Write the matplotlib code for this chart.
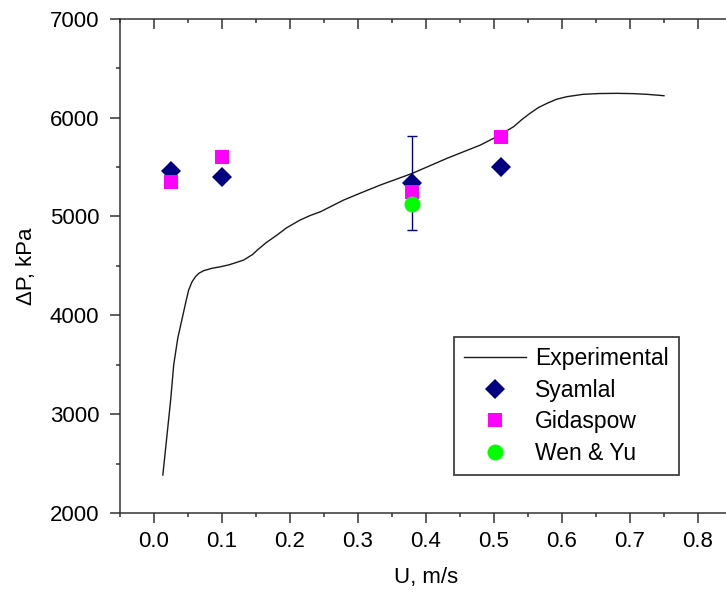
import matplotlib
matplotlib.use("Agg")
import matplotlib.pyplot as plt
from matplotlib.ticker import MultipleLocator

plt.rcParams['font.family'] = ['Liberation Sans', 'DejaVu Sans']

# Experimental curve
exp_u = [0.013, 0.0245, 0.029, 0.035, 0.042, 0.047, 0.051, 0.056, 0.061, 0.066, 0.073,
         0.085, 0.098, 0.110, 0.1175, 0.132, 0.145, 0.152, 0.165, 0.181, 0.195, 0.215,
         0.230, 0.245, 0.260, 0.279, 0.305, 0.333, 0.380, 0.431, 0.480, 0.505, 0.529,
         0.541, 0.553, 0.565, 0.578, 0.592, 0.607, 0.631, 0.655, 0.680, 0.705, 0.725,
         0.750]
exp_dp = [2384, 3143, 3500, 3770, 3986, 4140, 4256, 4340, 4390, 4425, 4451,
          4475, 4491, 4510, 4526, 4559, 4615, 4660, 4735, 4812, 4885, 4964,
          5010, 5048, 5100, 5166, 5240, 5318, 5436, 5588, 5722, 5810, 5908,
          5980, 6043, 6100, 6144, 6185, 6211, 6235, 6243, 6245, 6242, 6235,
          6221]

# Simulation results
syamlal_u = [0.025, 0.10, 0.38, 0.51]
syamlal_dp = [5455, 5402, 5335, 5503]
syamlal_err = [0, 0, 475, 0]

gidaspow_u = [0.025, 0.10, 0.38, 0.51]
gidaspow_dp = [5350, 5598, 5250, 5800]

wenyu_u = [0.38]
wenyu_dp = [5126]

W, H = 726, 592
fig = plt.figure(figsize=(W / 100, H / 100), dpi=100)
ax = fig.add_axes([120 / W, 1 - 513 / H, (732 - 120) / W, (513 - 18.7) / H])

navy = '#000080'
ax.plot(exp_u, exp_dp, color='#1a1a1a', lw=1.0, label='Experimental', zorder=2)

# error bars (only nonzero)
eu = [u for u, e in zip(syamlal_u, syamlal_err) if e > 0]
ed = [d for d, e in zip(syamlal_dp, syamlal_err) if e > 0]
ee = [e for e in syamlal_err if e > 0]
ax.errorbar(eu, ed, yerr=ee, fmt='none', ecolor=navy, elinewidth=1.0,
            capsize=3.9, capthick=1.0, zorder=2.5)

ax.plot(syamlal_u, syamlal_dp, linestyle='none', marker='D', markersize=10.2,
        color=navy, mew=0, label='Syamlal', zorder=3)
ax.plot(gidaspow_u, gidaspow_dp, linestyle='none', marker='s', markersize=10.3,
        color='#FF00FF', mew=0, label='Gidaspow', zorder=4)
ax.plot(wenyu_u, wenyu_dp, linestyle='none', marker='o', markersize=11.5,
        color='#00FF00', mew=0, label='Wen & Yu', zorder=5)

ax.set_xlim(-0.05, 0.85)
ax.set_ylim(2000, 7000)
ax.xaxis.set_major_locator(MultipleLocator(0.1))
ax.xaxis.set_minor_locator(MultipleLocator(0.05))
ax.yaxis.set_major_locator(MultipleLocator(1000))
ax.yaxis.set_minor_locator(MultipleLocator(500))
ax.set_xticks([0.0, 0.1, 0.2, 0.3, 0.4, 0.5, 0.6, 0.7, 0.8])
ax.set_xticklabels(['0.0', '0.1', '0.2', '0.3', '0.4', '0.5', '0.6', '0.7', '0.8'])

spine_c = '#333333'
for s in ax.spines.values():
    s.set_color(spine_c)
    s.set_linewidth(1.1)

ax.tick_params(axis='x', which='major', direction='out', length=7, width=1.1,
               colors=spine_c, labelcolor='black', labelsize=16, pad=6)
ax.tick_params(axis='x', which='minor', direction='out', length=3, width=1.1, colors=spine_c)
ax.tick_params(axis='y', which='major', direction='out', length=7, width=1.1,
               colors=spine_c, labelcolor='black', labelsize=16, pad=8)
ax.tick_params(axis='y', which='minor', direction='out', length=3, width=1.1, colors=spine_c)

# inward ticks on top and right (no labels)
ax.tick_params(which='major', top=True, right=True)
ax.tick_params(which='minor', top=True, right=True)
for tl in ax.xaxis.get_major_ticks() + ax.xaxis.get_minor_ticks():
    tl.tick2line.set_marker(3)  # TICKDOWN
for tl in ax.yaxis.get_major_ticks() + ax.yaxis.get_minor_ticks():
    tl.tick2line.set_marker(1)  # TICKLEFT

ax.set_xlabel('U, m/s', fontsize=16, labelpad=11)
ax.set_ylabel('ΔP, kPa', fontsize=16, labelpad=9)

leg = ax.legend(loc='upper left', bbox_to_anchor=(454 / W, 1 - 337 / H),
                bbox_transform=fig.transFigure, fontsize=16.5, frameon=True,
                fancybox=False, edgecolor='#404040', framealpha=1,
                handlelength=2.7, handletextpad=0.4, labelspacing=0.37,
                borderpad=0.45, borderaxespad=0)
leg.get_frame().set_linewidth(1.3)

fig.savefig('out.png', dpi=100)
